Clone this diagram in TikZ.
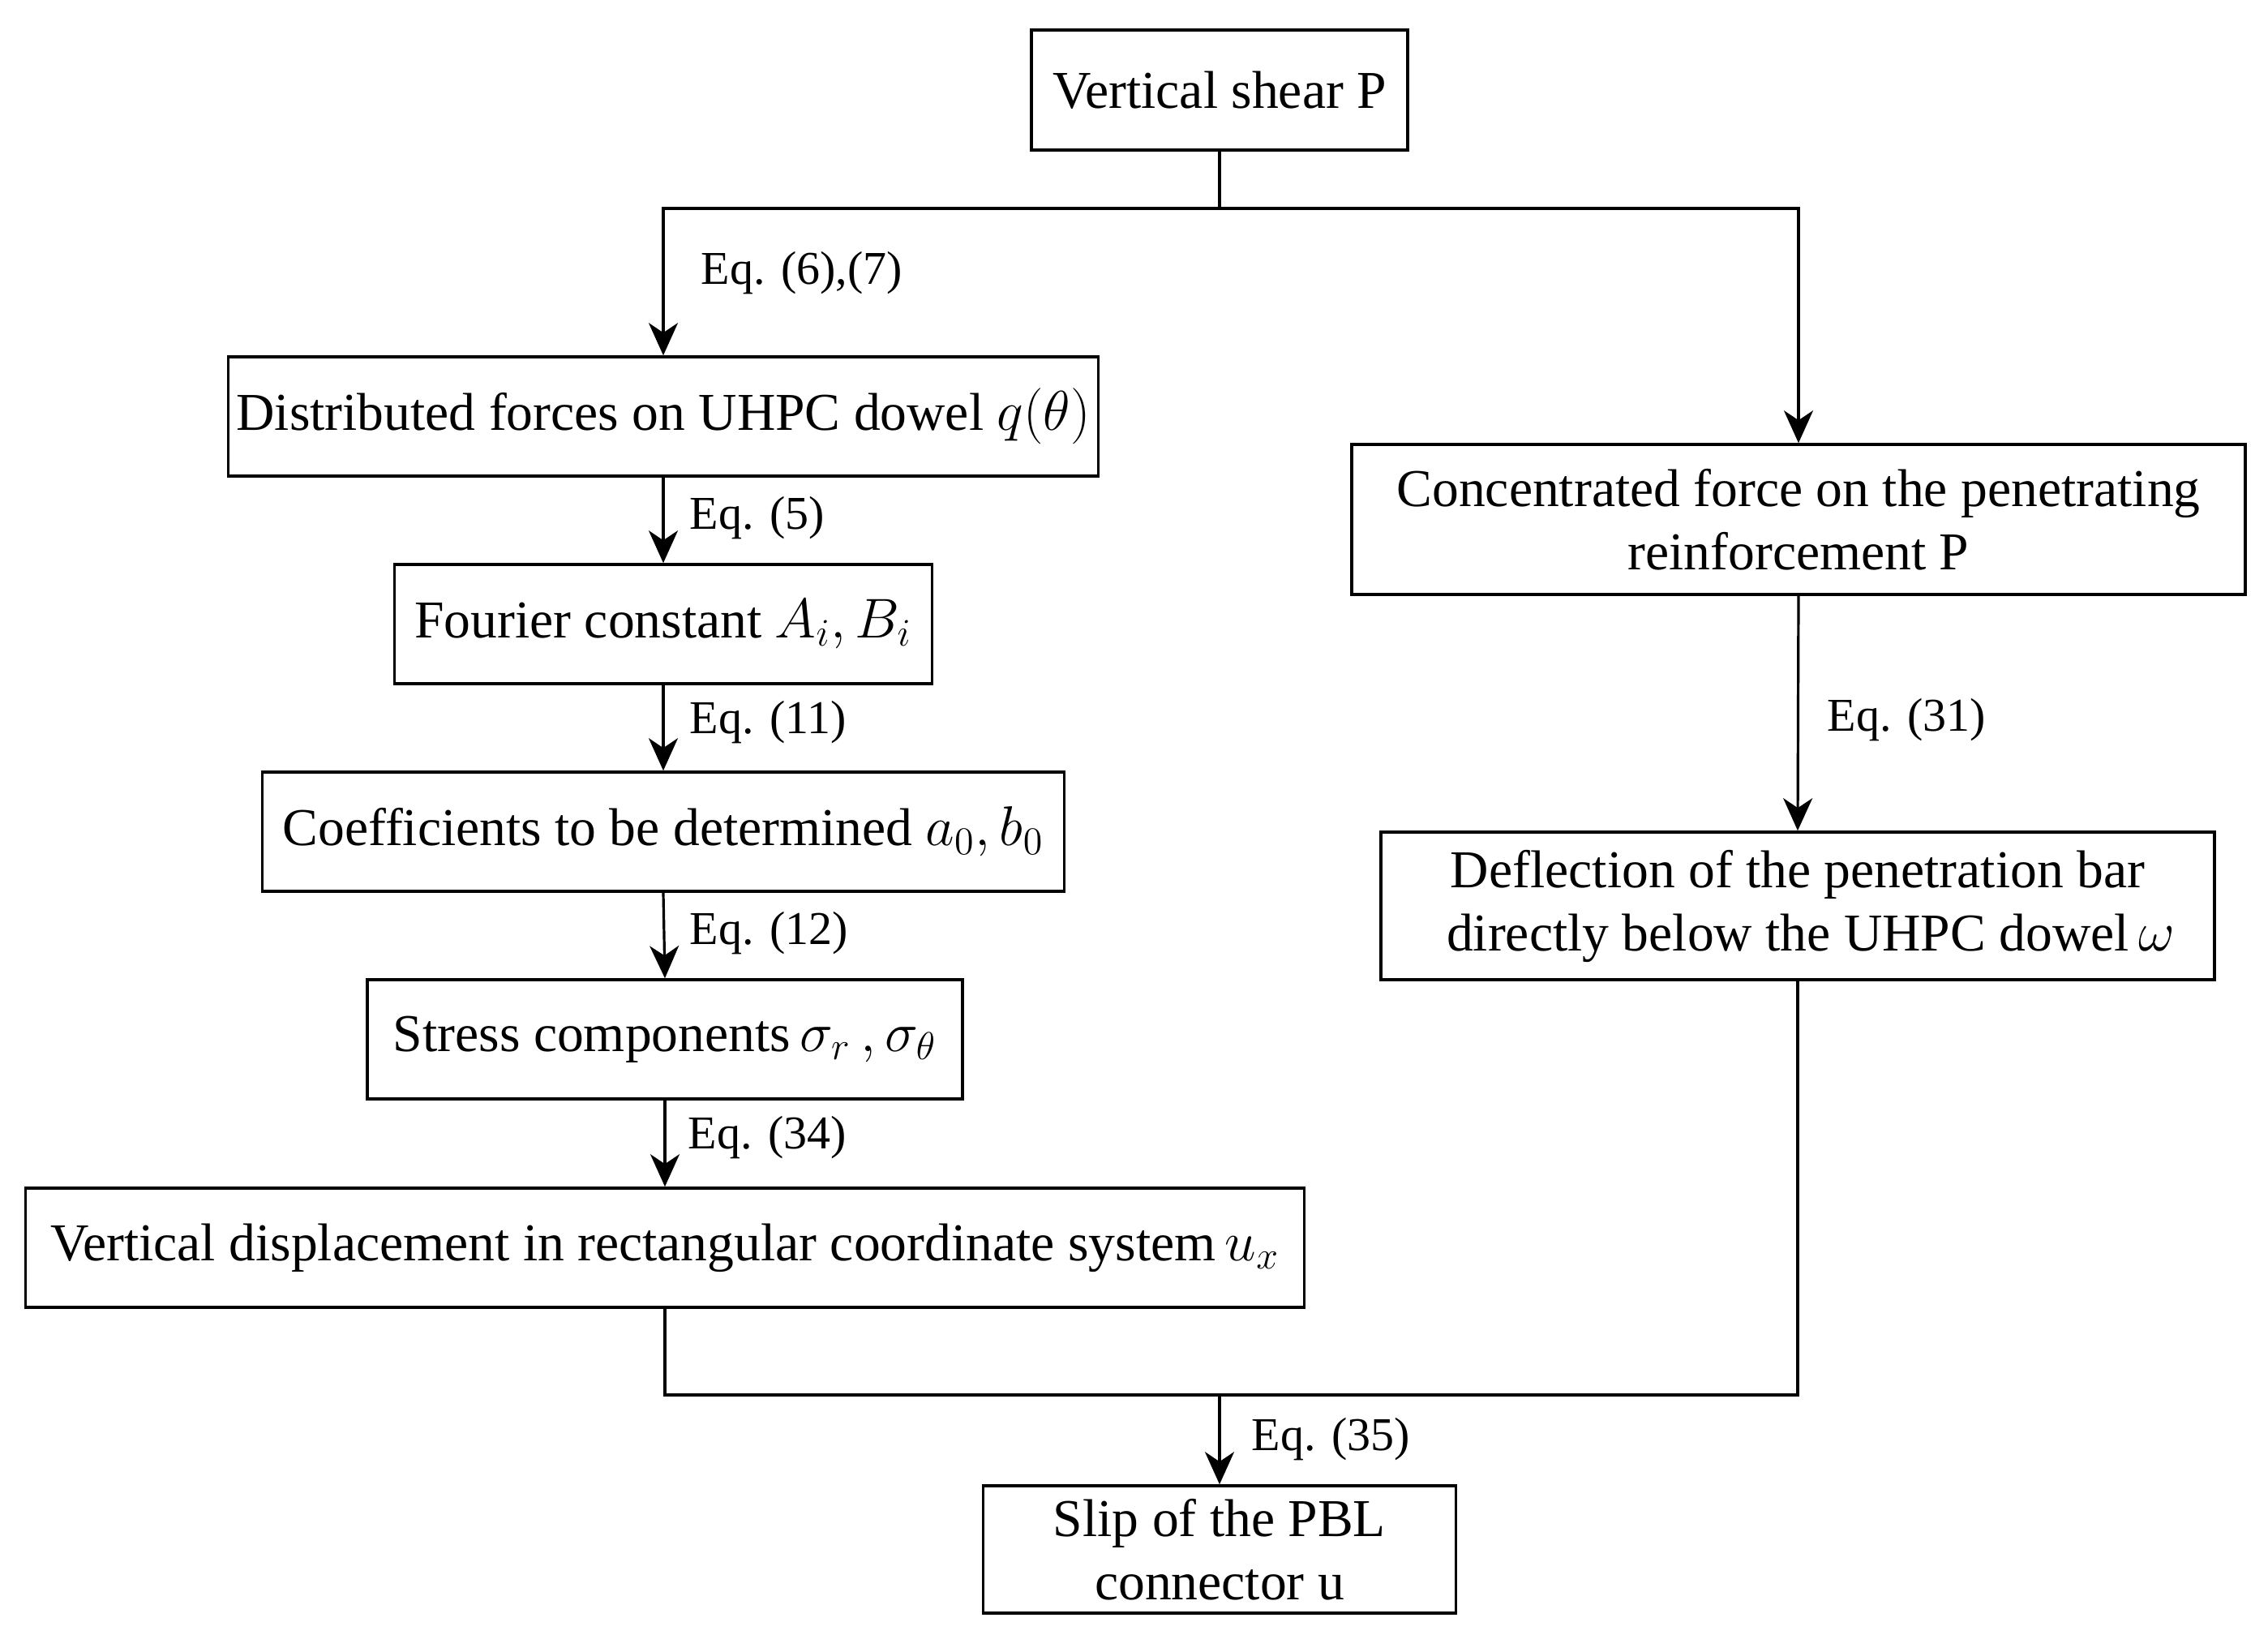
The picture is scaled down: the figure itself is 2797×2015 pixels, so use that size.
\documentclass[tikz,border=0pt]{standalone}
\usepackage{fontspec}
\setmainfont{Liberation Serif}
\usetikzlibrary{arrows.meta}
\begin{document}
\begin{tikzpicture}[x=0.25pt,y=-0.25pt,
  box/.style={draw, line width=0.9pt, inner sep=1pt, align=center,
    font=\fontsize{16.4}{19.5}\selectfont, minimum height=36.75pt},
  eqlab/.style={anchor=west, inner sep=0pt, font=\fontsize{14.5}{17}\selectfont},
  conn/.style={line width=0.8pt},
  arr/.style={conn, -{Stealth[length=10pt,width=9pt,inset=3pt]}}]
\useasboundingbox (0,0) rectangle (2797,2015);
\fill[white] (0,0) rectangle (2797,2015);

\node[box, minimum width=116pt, minimum height=37pt] (b1) at (1504,111) {Vertical shear P};
\node[box, minimum width=268.25pt] (b2) at (818,513.5) {Distributed forces on UHPC dowel $q(\theta)$};
\node[box, minimum width=165.75pt] (b3) at (818,769.5) {Fourier constant $A_i,B_i$};
\node[box, minimum width=247.25pt] (b4) at (818,1025.5) {Coefficients to be determined $a_0,b_0$};
\node[box, minimum width=183.5pt] (b5) at (820,1281.5) {Stress components$\,\sigma_r\,,\sigma_\theta$};
\node[box, minimum width=394.25pt] (b6) at (820,1538.5) {Vertical displacement in rectangular coordinate system$\,u_x$};
\node[box, minimum width=275.5pt, minimum height=46.25pt] (b7) at (2218,640.5) {Concentrated force on the penetrating\\reinforcement P};
\node[box, minimum width=257pt, minimum height=45.5pt] (b8) at (2217,1117) {Deflection of the penetration bar\\\hspace*{8pt}directly below the UHPC dowel$\,\omega$};
\node[box, minimum width=145.75pt, minimum height=39.25pt] (b9) at (1504,1910.5) {Slip of the PBL\\connector u};

\coordinate (jt) at (1504,257);
\coordinate (jb) at (1504,1720);

\draw[conn] (b1.south) -- (jt);
\draw[arr] (jt) -| (b2.north);
\draw[arr] (jt) -| (b7.north);
\draw[arr] (b2.south) -- (b3.north);
\draw[arr] (b3.south) -- (b4.north);
\draw[arr] (b4.south) -- (b5.north);
\draw[arr] (b5.south) -- (b6.north);
\draw[arr] (b7.south) -- (b8.north);
\draw[conn] (b6.south) |- (jb);
\draw[conn] (b8.south) |- (jb);
\draw[arr] (jb) -- (b9.north);

\node[eqlab] (l1) at (864,337) {Eq. (6),(7)};
\node[eqlab] (l2) at (850,639) {Eq. (5)};
\node[eqlab] (l3) at (850,891) {Eq. (11)};
\node[eqlab] (l4) at (850,1151) {Eq. (12)};
\node[eqlab] (l5) at (848,1403) {Eq. (34)};
\node[eqlab] (l6) at (2253,888) {Eq. (31)};
\node[eqlab] (l7) at (1543,1775) {Eq. (35)};
\end{tikzpicture}
\end{document}
